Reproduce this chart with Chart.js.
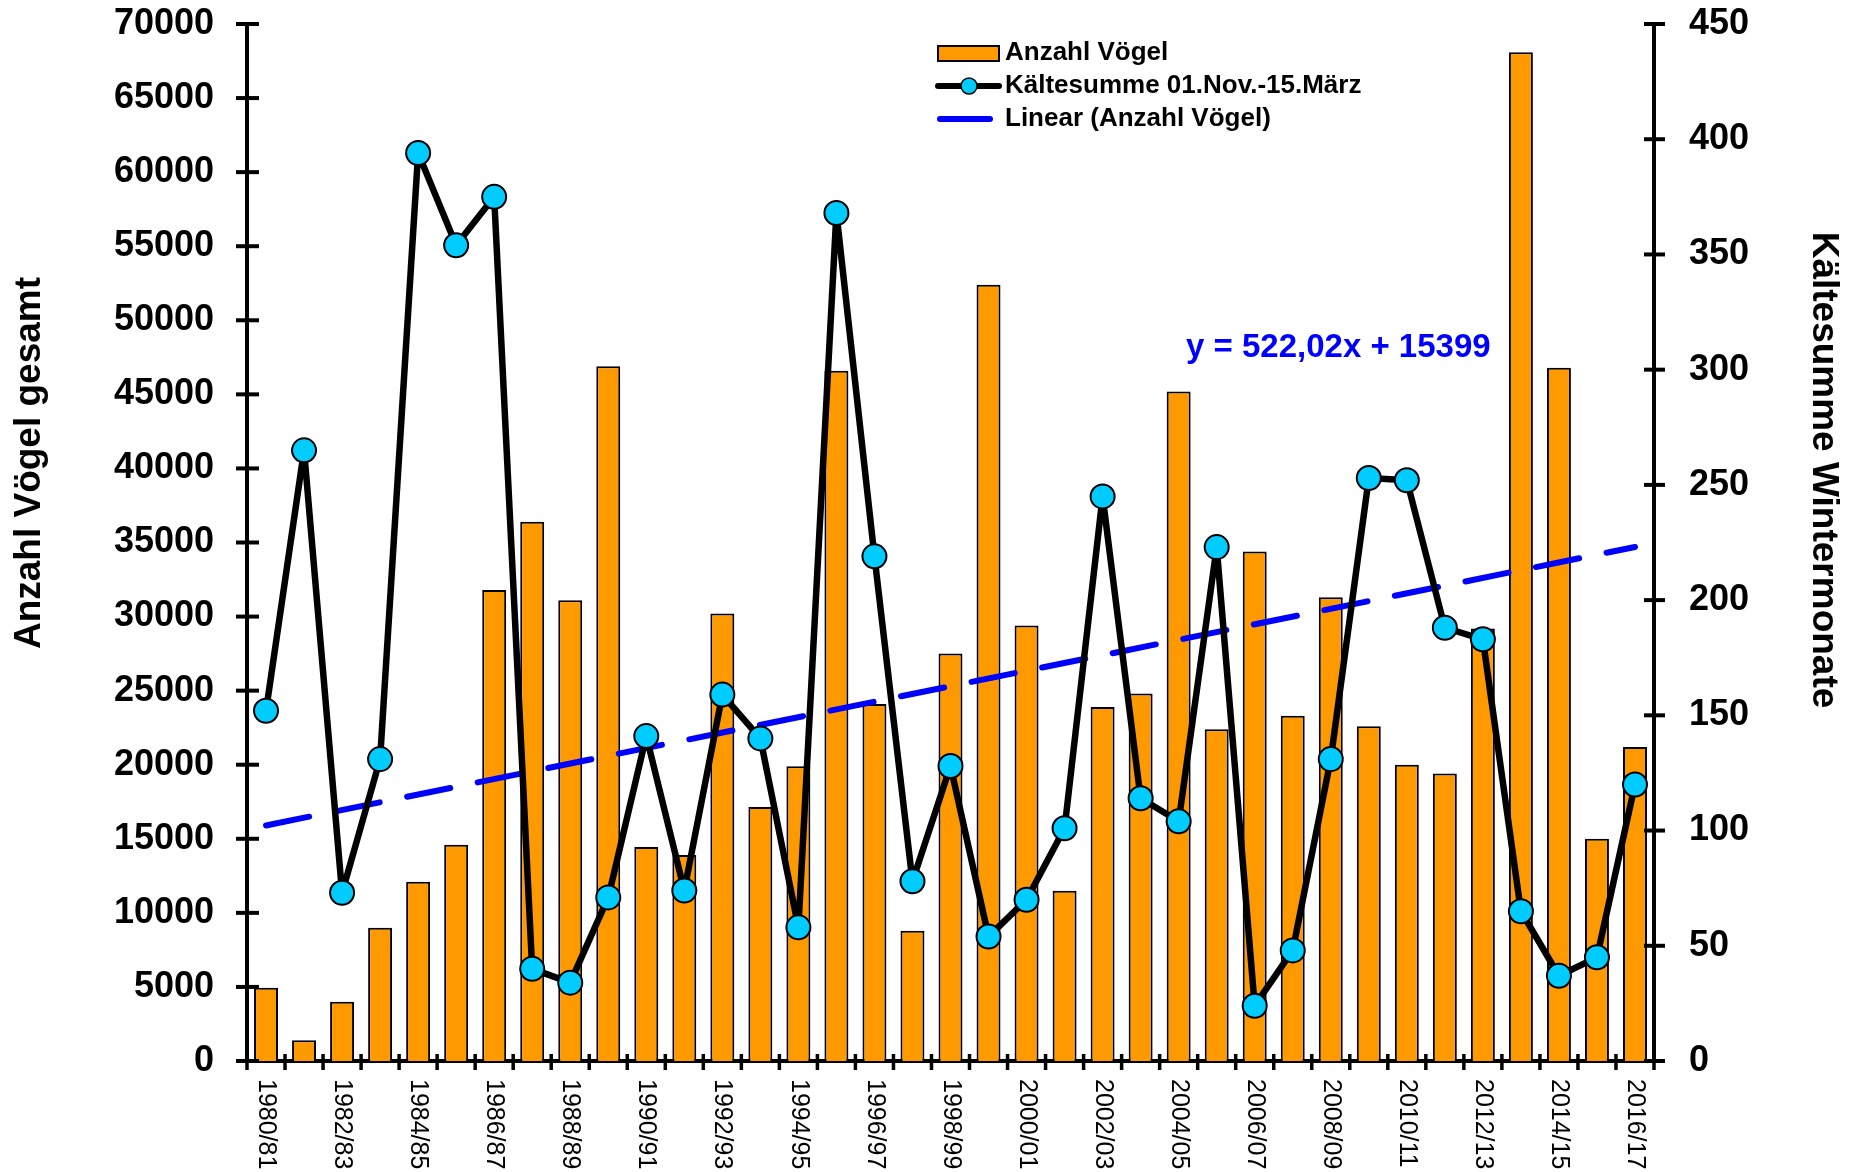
<!DOCTYPE html>
<html>
<head>
<meta charset="utf-8">
<script src="https://cdn.jsdelivr.net/npm/chart.js@4.4.1/dist/chart.umd.min.js"></script>
<style>
  html, body { margin: 0; padding: 0; background: #fff; }
</style>
</head>
<body>
<canvas id="birdChart" width="1850" height="1172"></canvas>
<script>
// seasons (winter half-years)
var seasons = ['1980/81', '1981/82', '1982/83', '1983/84', '1984/85', '1985/86', '1986/87', '1987/88',
  '1988/89', '1989/90', '1990/91', '1991/92', '1992/93', '1993/94', '1994/95', '1995/96', '1996/97',
  '1997/98', '1998/99', '1999/00', '2000/01', '2001/02', '2002/03', '2003/04', '2004/05', '2005/06',
  '2006/07', '2007/08', '2008/09', '2009/10', '2010/11', '2011/12', '2012/13', '2013/14', '2014/15',
  '2015/16', '2016/17'];

// Anzahl Vögel (left axis)
var birdCount = [4950, 1400, 4000, 9000, 12100, 14600, 31800, 36400, 31100, 46900,
  14450, 13900, 30200, 17150, 19900, 46600, 24100, 8800, 27500, 52400,
  29400, 11500, 23900, 24800, 45200, 22400, 34400, 23300, 31300, 22600,
  20000, 19400, 29200, 68100, 46800, 15000, 21200];

// Kältesumme 01.Nov.-15.März (right axis)
var coldSum = [152, 265, 73, 131, 394, 354, 375, 40, 34, 71,
  141, 74, 159, 140, 58, 368, 219, 78, 128, 54,
  70, 101, 245, 114, 104, 223, 24, 48, 131, 253,
  252, 188, 183, 65, 37, 45, 120];

// linear trend, value at first and last season
var trendEnds = [15900, 34700];
var trendLabel = 'y = 522,02x + 15399';

var leftMax = 70000, leftStep = 5000;
var rightMax = 450, rightStep = 50;

var FONT = '"Liberation Sans", Arial, sans-serif';

var extrasPlugin = {
    id: 'extras',
    afterDraw: function (chart) {
        var ctx = chart.ctx;
        var area = chart.chartArea;
        var xs = chart.scales.x, yl = chart.scales.y, yr = chart.scales.y1;
        ctx.save();
        ctx.strokeStyle = '#000';

        // y tick marks crossing the axes
        ctx.lineWidth = 4;
        var v, py;
        for (v = 0; v <= leftMax; v += leftStep) {
            py = yl.getPixelForValue(v);
            ctx.beginPath(); ctx.moveTo(area.left - 11, py); ctx.lineTo(area.left + 12, py); ctx.stroke();
        }
        for (v = 0; v <= rightMax; v += rightStep) {
            py = yr.getPixelForValue(v);
            ctx.beginPath(); ctx.moveTo(area.right - 10, py); ctx.lineTo(area.right + 11, py); ctx.stroke();
        }

        // x tick marks between categories
        var step = (area.right - area.left) / seasons.length;
        ctx.lineWidth = 3.5;
        for (var i = 0; i <= seasons.length; i++) {
            var px = area.left + i * step;
            ctx.beginPath(); ctx.moveTo(px, area.bottom - 7); ctx.lineTo(px, area.bottom + 9); ctx.stroke();
        }

        // x labels, every second season, rotated clockwise
        ctx.fillStyle = '#000';
        ctx.font = '25px ' + FONT;
        ctx.textAlign = 'left';
        ctx.textBaseline = 'middle';
        for (i = 0; i < seasons.length; i += 2) {
            ctx.save();
            ctx.translate(xs.getPixelForValue(i), area.bottom + 18);
            ctx.rotate(Math.PI / 2);
            ctx.fillText(seasons[i], 0, 0);
            ctx.restore();
        }

        // axis titles
        ctx.font = 'bold 37px ' + FONT;
        ctx.textAlign = 'center';
        ctx.save();
        ctx.translate(30, 463);
        ctx.rotate(-Math.PI / 2);
        ctx.fillText('Anzahl Vögel gesamt', 0, 0);
        ctx.restore();
        ctx.save();
        ctx.translate(1823, 470);
        ctx.rotate(Math.PI / 2);
        ctx.fillText('Kältesumme Wintermonate', 0, 0);
        ctx.restore();

        // trend equation
        ctx.fillStyle = '#0000FF';
        ctx.font = 'bold 33px ' + FONT;
        ctx.textAlign = 'left';
        ctx.fillText(trendLabel, 1186, 348);

        // legend
        var lx = 938, tx = 1005;
        ctx.fillStyle = '#FF9900';
        ctx.lineWidth = 2;
        ctx.fillRect(lx, 46, 61, 15);
        ctx.strokeRect(lx, 46, 61, 15);

        ctx.lineWidth = 6;
        ctx.lineCap = 'round';
        ctx.beginPath(); ctx.moveTo(lx, 86); ctx.lineTo(lx + 61, 86); ctx.stroke();
        ctx.fillStyle = '#00CCFF';
        ctx.lineWidth = 1.5;
        ctx.beginPath(); ctx.arc(lx + 31, 86, 8, 0, Math.PI * 2); ctx.fill(); ctx.stroke();

        ctx.strokeStyle = '#0000FF';
        ctx.lineWidth = 6;
        ctx.beginPath(); ctx.moveTo(lx + 2, 119); ctx.lineTo(lx + 52, 119); ctx.stroke();

        ctx.fillStyle = '#000';
        ctx.font = 'bold 26px ' + FONT;
        ctx.fillText('Anzahl Vögel', tx, 53);
        ctx.fillText('Kältesumme 01.Nov.-15.März', tx, 86);
        ctx.fillText('Linear (Anzahl Vögel)', tx, 119);
        ctx.restore();
    }
};

function plainTick(value) {
    return String(value);
}

document.addEventListener('DOMContentLoaded', function () {
    var ctx = document.getElementById('birdChart').getContext('2d');
    var birdChart = new Chart(ctx, {
        type: 'bar',
        data: {
            labels: seasons,
            datasets: [{
                type: 'line',
                label: 'Kältesumme 01.Nov.-15.März',
                data: coldSum,
                yAxisID: 'y1',
                borderColor: '#000',
                borderWidth: 6.5,
                borderJoinStyle: 'round',
                pointRadius: 12,
                pointBackgroundColor: '#00CCFF',
                pointBorderColor: '#000',
                pointBorderWidth: 2,
                tension: 0,
                order: 0
            }, {
                type: 'line',
                label: 'Linear (Anzahl Vögel)',
                data: [{ x: seasons[0], y: trendEnds[0] }, { x: seasons[seasons.length - 1], y: trendEnds[1] }],
                yAxisID: 'y',
                borderColor: '#0000FF',
                borderWidth: 6,
                borderDash: [44, 28],
                borderCapStyle: 'round',
                pointRadius: 0,
                order: 1
            }, {
                label: 'Anzahl Vögel',
                data: birdCount,
                yAxisID: 'y',
                backgroundColor: '#FF9900',
                borderColor: '#000',
                borderWidth: 2,
                barPercentage: 0.63,
                categoryPercentage: 1,
                order: 2
            }]
        },
        options: {
            responsive: false,
            animation: false,
            devicePixelRatio: 1,
            layout: { autoPadding: false, padding: { top: 24, left: 0, right: 0, bottom: 0 } },
            plugins: {
                legend: { display: false },
                tooltip: { enabled: false }
            },
            scales: {
                x: {
                    offset: true,
                    grid: { display: false, drawTicks: false },
                    border: { display: true, color: '#000', width: 4 },
                    ticks: { display: false },
                    afterFit: function (scale) { scale.height = 111; }
                },
                y: {
                    position: 'left',
                    min: 0,
                    max: leftMax,
                    // grid hidden; tickLength only keeps the labels away from the axis
                    grid: { display: false, drawTicks: true, tickLength: 33 },
                    border: { display: true, color: '#000', width: 4 },
                    ticks: {
                        stepSize: leftStep,
                        color: '#000',
                        padding: 0,
                        callback: plainTick,
                        font: { family: FONT, size: 36, weight: 'bold', lineHeight: '40px' }
                    },
                    afterFit: function (scale) { scale.width = 247; }
                },
                y1: {
                    position: 'right',
                    min: 0,
                    max: rightMax,
                    grid: { display: false, drawTicks: true, tickLength: 35 },
                    border: { display: true, color: '#000', width: 4 },
                    ticks: {
                        stepSize: rightStep,
                        color: '#000',
                        padding: 0,
                        callback: plainTick,
                        font: { family: FONT, size: 36, weight: 'bold', lineHeight: '40px' }
                    },
                    afterFit: function (scale) { scale.width = 196; }
                }
            }
        },
        plugins: [extrasPlugin]
    });
});
</script>
</body>
</html>
